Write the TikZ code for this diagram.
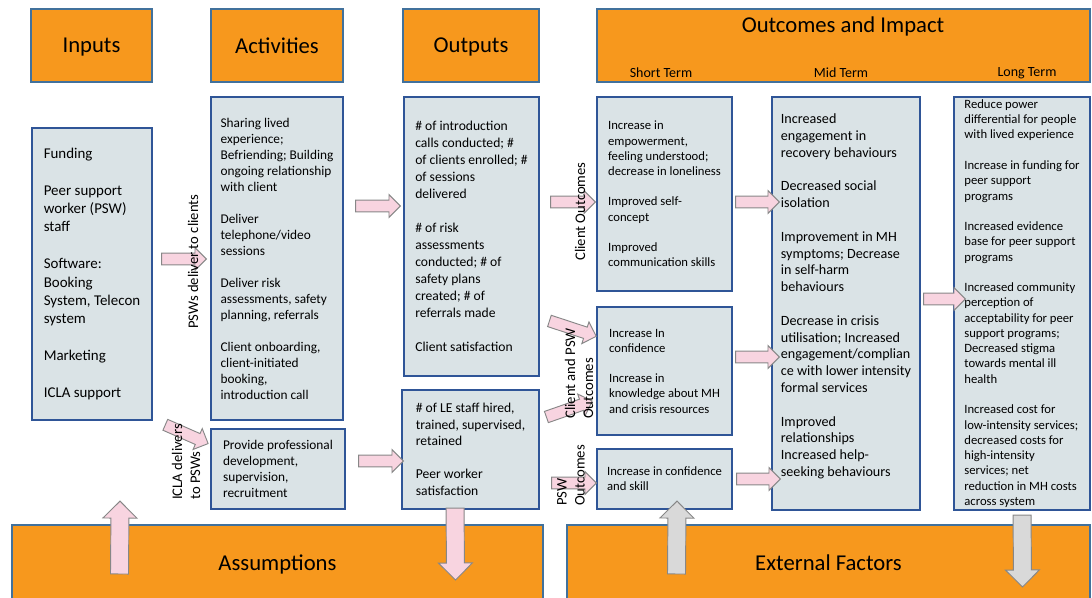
\documentclass[tikz,border=0pt]{standalone}
\usepackage{fontspec}
\setmainfont{Carlito}
\usetikzlibrary{calc}
\usetikzlibrary{shapes.arrows}

\definecolor{hdrorange}{RGB}{247,152,29}
\definecolor{hdrline}{RGB}{65,113,156}
\definecolor{boxfill}{RGB}{218,227,230}
\definecolor{boxline}{RGB}{47,85,151}
\definecolor{arrpink}{RGB}{248,212,224}
\definecolor{arrgray}{RGB}{217,217,217}
\definecolor{arrline}{RGB}{135,135,135}

\tikzset{
  spot/.style n args={4}{at={({(#1+#3)/2},{(#2+#4)/2})}, minimum width={(#3-#1)*0.75pt}, minimum height={(#4-#2)*0.75pt}},
  hdr/.style={draw=hdrline, fill=hdrorange, line width=0.8pt, inner sep=0pt, text depth=0pt, font=\fontsize{17}{20}\selectfont},
  content/.style={draw=boxline, fill=boxfill, line width=0.9pt, inner sep=0pt, align=left},
  sidelabel/.style={rotate=90, anchor=west, align=left, inner sep=0pt, font=\fontsize{11}{13.5}\selectfont},
  pinkarr/.style={single arrow, draw=arrline, fill=arrpink, line width=0.7pt, inner xsep=0pt, inner ysep=4.1pt, single arrow head extend=4.1pt, single arrow tip angle=90},
  bigpink/.style={pinkarr, inner ysep=6.4pt, single arrow head extend=6pt},
  biggray/.style={bigpink, fill=arrgray},
}

% block arrow between two points
\newcommand{\blockarrow}[3][pinkarr]{%
  \path let \p1=#2, \p2=#3, \n1={atan2(\y2-\y1,\x2-\x1)}, \n2={veclen(\x2-\x1,\y2-\y1)} in
    node[#1, rotate=\n1, minimum height=\n2] at ($(\p1)!0.5!(\p2)$) {};}

\begin{document}
\begin{tikzpicture}[x=0.75pt, y=-0.75pt]
  \useasboundingbox (0,0) rectangle (1092,597);

  % headers
  \node[hdr, spot={31}{9}{152}{82}] (hin) {Inputs};
  \node[hdr, spot={211}{9}{343}{82}] (hact) {Activities};
  \node[hdr, spot={403}{9}{539}{82}] (hout) {Outputs};
  \node[hdr, spot={597}{9}{1090}{82}] (hoc) {};
  \node[font=\fontsize{17}{20}\selectfont] (hoct) at (843,26) {Outcomes and Impact};
  \node[font=\fontsize{10.5}{12}\selectfont] (tshort) at (661,73) {Short Term};
  \node[font=\fontsize{10.5}{12}\selectfont] (tmid) at (841,73) {Mid Term};
  \node[font=\fontsize{10.5}{12}\selectfont] (tlong) at (1027,73) {Long Term};

  % columns
  \node[content, spot={32}{128}{152}{420}, font=\fontsize{11.2}{13.8}\selectfont] (inp)
    {Funding\\[\baselineskip]Peer support\\worker (PSW)\\staff\\[\baselineskip]Software:\\Booking\\System, Telecon\\system\\[\baselineskip]Marketing\\[\baselineskip]ICLA support};
  \node[content, spot={211}{97}{343}{420}, font=\fontsize{10}{12}\selectfont] (act)
    {Sharing lived\\experience;\\Befriending; Building\\ongoing relationship\\with client\\[\baselineskip]Deliver\\telephone/video\\sessions\\[\baselineskip]Deliver risk\\assessments, safety\\planning, referrals\\[\baselineskip]Client onboarding,\\client-initiated\\booking,\\introduction call};
  \node[content, spot={211}{429}{345}{509}, font=\fontsize{10}{12}\selectfont] (actb)
    {Provide professional\\development,\\supervision,\\recruitment};
  \node[content, spot={404}{97}{539}{376}, font=\fontsize{10.2}{12.75}\selectfont] (out)
    {\# of introduction\\calls conducted; \#\\of clients enrolled; \#\\of sessions\\delivered\\[\baselineskip]\# of risk\\assessments\\conducted; \# of\\safety plans\\created; \# of\\referrals made\\[\baselineskip]Client satisfaction};
  \node[content, spot={402}{390}{539}{509}, font=\fontsize{10.2}{12.4}\selectfont] (outb)
    {\# of LE staff hired,\\trained, supervised,\\retained\\[\baselineskip]Peer worker\\satisfaction};
  \node[content, spot={597}{97}{732}{291}, font=\fontsize{9.5}{11.4}\selectfont] (sa)
    {Increase in\\empowerment,\\feeling understood;\\decrease in loneliness\\[\baselineskip]Improved self-\\concept\\[\baselineskip]Improved\\communication skills};
  \node[content, spot={597}{307}{732}{435}, font=\fontsize{9.5}{11.4}\selectfont] (sb)
    {Increase In\\confidence\\[\baselineskip]Increase in\\knowledge about MH\\and crisis resources};
  \node[content, spot={597}{449}{732}{509}, font=\fontsize{9.5}{11.4}\selectfont] (sc)
    {Increase in confidence\\and skill};
  \node[content, spot={772}{97}{920}{510}, font=\fontsize{10.6}{12.6}\selectfont] (mid)
    {Increased\\engagement in\\recovery behaviours\\[\baselineskip]Decreased social\\isolation\\[\baselineskip]Improvement in MH\\symptoms; Decrease\\in self-harm\\behaviours\\[\baselineskip]Decrease in crisis\\utilisation; Increased\\engagement/complian\\ce with lower intensity\\formal services\\[\baselineskip]Improved\\relationships\\Increased help-\\seeking behaviours\\\mbox{}};
  \node[content, spot={954}{97}{1090}{510}, font=\fontsize{9.5}{11.45}\selectfont] (lng)
    {Reduce power\\differential for people\\with lived experience\\[\baselineskip]Increase in funding for\\peer support\\programs\\[\baselineskip]Increased evidence\\base for peer support\\programs\\[\baselineskip]Increased community\\perception of\\acceptability for peer\\support programs;\\Decreased stigma\\towards mental ill\\health\\[\baselineskip]Increased cost for\\low-intensity services;\\decreased costs for\\high-intensity\\services; net\\reduction in MH costs\\across system};

  % bottom bars
  \node[hdr, spot={12}{525}{543}{600}] (ass) {Assumptions};
  \node[hdr, spot={567}{525}{1090}{600}] (ext) {External Factors};

  % arrows
  \blockarrow{($(inp.east)+(6,-15)$)}{($(act.west)+(-7,0.5)$)}
  \blockarrow{($(act.east)+(9,-52.5)$)}{($(out.west)+(-6,-30.5)$)}
  \blockarrow{($(inp.south east)+(10,3)$)}{($(actb.north west)+(-5,14)$)}
  \blockarrow{($(actb.east)+(10,-8)$)}{($(outb.west)+(-1,11.5)$)}
  \blockarrow{($(out.east)+(8,-34.5)$)}{($(sa.west)+(-4,8)$)}
  \blockarrow{($(out.east)+(7,83.5)$)}{($(sb.north west)+(-3,29)$)}
  \blockarrow{($(outb.east)+(4,-31.5)$)}{($(sb.west)+(-7,31)$)}
  \blockarrow{($(outb.east)+(9,33.5)$)}{($(sc.west)+(-3,4)$)}
  \blockarrow{($(sa.east)+(0,8)$)}{($(mid.west)+(5,-101.5)$)}
  \blockarrow{($(sb.east)+(0,-14)$)}{($(mid.west)+(5,53.5)$)}
  \blockarrow{($(sc.east)+(1,0)$)}{($(mid.west)+(6,175.5)$)}
  \blockarrow{($(mid.east)+(0,-4.5)$)}{($(lng.west)+(9,-4.5)$)}
  \blockarrow[bigpink]{($(ass.north west)+(108,54)$)}{($(inp.south)+(28,85)$)}
  \blockarrow[bigpink]{($(outb.south)+(-15.5,-6)$)}{($(ass.north east)+(-88,51)$)}
  \blockarrow[biggray]{($(ext.north west)+(110,54)$)}{($(sc.south)+(12.5,-4)$)}
  \blockarrow[biggray]{($(lng.south)+(0,0)$)}{($(ext.north east)+(-68,58)$)}

  % side labels, on top of the arrows
  \node[sidelabel] (lpsw) at (193,329) {PSWs deliver to clients};
  \node[sidelabel] (licla) at (186,500) {ICLA delivers\\to PSWs};
  \node[sidelabel] (lcli) at (580,261) {Client Outcomes};
  \node[sidelabel] (lboth) at (579,419) {Client and PSW\\Outcomes};
  \node[sidelabel] (lpo) at (571,506) {PSW\\Outcomes};
\end{tikzpicture}
\end{document}
